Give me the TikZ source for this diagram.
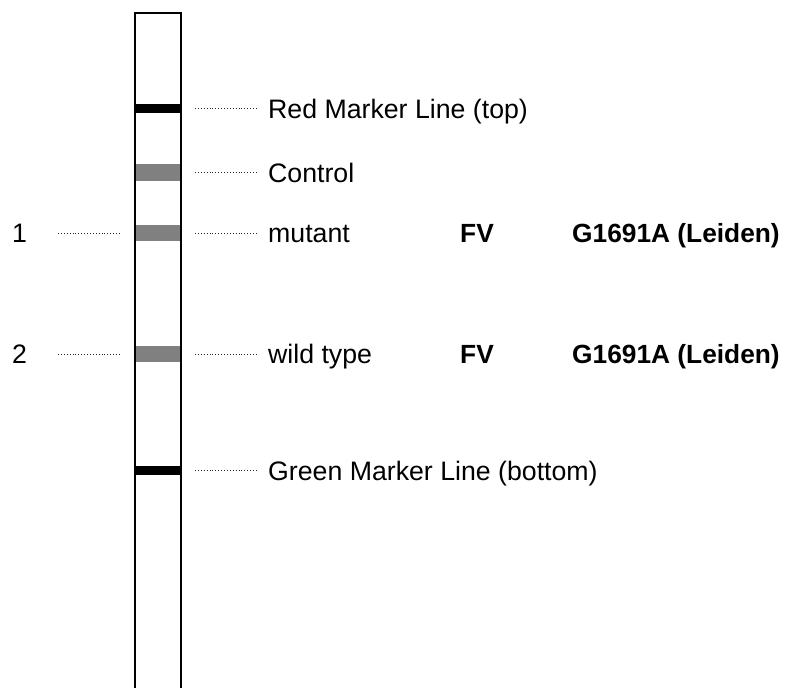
\documentclass[tikz,border=0pt]{standalone}
\usepackage{fontspec}
\setmainfont{Liberation Sans}
\begin{document}
\begin{tikzpicture}[x=1pt,y=-1pt,
  lab/.style={inner sep=0pt,anchor=base west,font=\fontsize{26.7}{32}\selectfont},
  blab/.style={lab,font=\fontsize{26.3}{32}\selectfont\bfseries},
  dotline/.style={line width=0.9pt,dash pattern=on 0.9pt off 2pt,black!85},
  blackband/.style={fill=black,draw=none},
  grayband/.style={fill=black!50,draw=none},
  strip/.style={line width=1.3pt,black}]
\useasboundingbox (0,0) rectangle (787,688);
% bands
\fill[blackband] (135,104) rectangle (181,113);
\fill[grayband] (135,164) rectangle (181,181);
\fill[grayband] (135,225) rectangle (181,241);
\fill[grayband] (135,346) rectangle (181,362);
\fill[blackband] (135,466) rectangle (181,475);
% strip
\draw[strip] (135,688) -- (135,13) -- (181,13) -- (181,688);
% coordinates for connectors
\foreach \n/\y in {red/108.5,ctl/172.5,mut/233,wild/354,grn/470.5}{
  \coordinate (\n a) at (195,\y);
  \coordinate (\n b) at (257,\y);
}
\coordinate (onea) at (58,233); \coordinate (oneb) at (121,233);
\coordinate (twoa) at (58,354); \coordinate (twob) at (121,354);
% labels
\node[lab] (tred) at (268,118) {Red Marker Line (top)};
\node[lab] (tctl) at (268,182) {Control};
\node[lab] (tmut) at (268,242.5) {mutant};
\node[lab] (twild) at (268,363.5) {wild type};
\node[lab] (tgrn) at (268,480) {Green Marker Line (bottom)};
\node[lab] (tone) at (12,242.5) {1};
\node[lab] (ttwo) at (12,363.5) {2};
\node[blab] (fv1) at (460,242.5) {FV};
\node[blab] (fv2) at (460,363.5) {FV};
\node[blab] (g1) at (572,242.5) {G1691A (Leiden)};
\node[blab] (g2) at (572,363.5) {G1691A (Leiden)};
% connectors
\foreach \n in {red,ctl,mut,wild,grn,one,two}{
  \draw[dotline] (\n a) -- (\n b);
}
\end{tikzpicture}
\end{document}
